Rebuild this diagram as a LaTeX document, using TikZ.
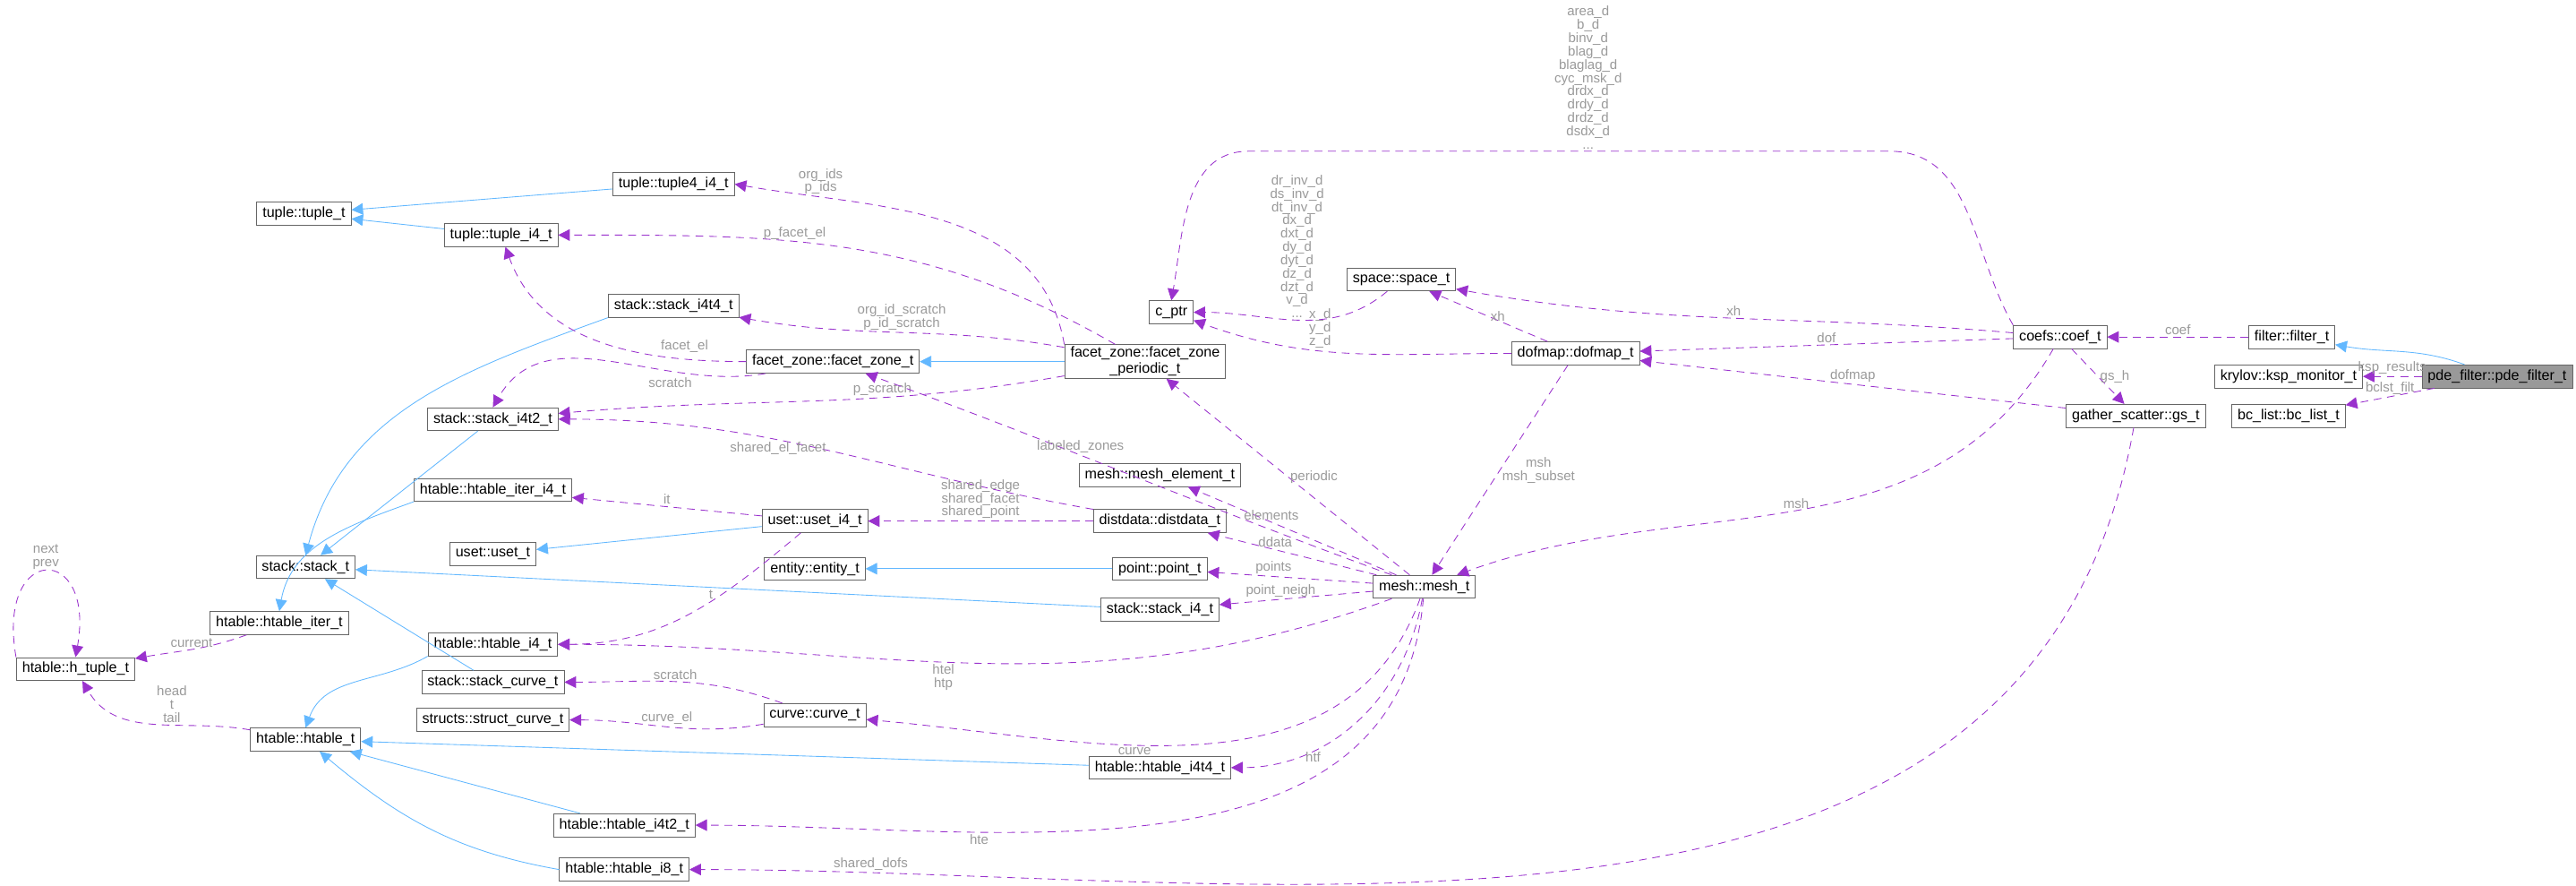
\documentclass[tikz,border=0pt]{standalone}
\usepackage{fontspec}
\setmainfont{Liberation Sans}
\usetikzlibrary{arrows.meta,positioning}
\definecolor{inhblue}{HTML}{63B8FF}
\definecolor{usepurple}{HTML}{9A32CD}
\definecolor{lblgray}{HTML}{9A9A9A}
\begin{document}
\begin{tikzpicture}[x=0.03cm, y=-0.03cm,
    cls/.style={draw=black!60, fill=white, rectangle, minimum height=0.42cm, inner xsep=3pt, inner ysep=1pt, font=\fontsize{7.5}{8.5}\selectfont, align=center},
    inh/.style={draw=inhblue, -{Triangle[length=6pt,width=6pt]}},
    use/.style={draw=usepurple, dashed, dash pattern=on 4pt off 3pt, -{Triangle[length=6pt,width=6pt]}},
    lbl/.style={text=lblgray, font=\fontsize{7}{6.9}\selectfont, align=center, inner sep=1pt}]
  \useasboundingbox (0,0) rectangle (1568,539);
  % classes
  \node[cls, fill=black!40] (pde) at (1520,229) {pde\_filter::pde\_filter\_t};
  \node[cls] (filter) at (1395,205) {filter::filter\_t};
  \node[cls] (ksp) at (1393,229) {krylov::ksp\_monitor\_t};
  \node[cls] (bclist) at (1393,253) {bc\_list::bc\_list\_t};
  \node[cls] (coef) at (1254,205) {coefs::coef\_t};
  \node[cls] (gs) at (1300,253) {gather\_scatter::gs\_t};
  \node[cls] (dofmap) at (959,215) {dofmap::dofmap\_t};
  \node[cls] (space) at (853,170) {space::space\_t};
  \node[cls] (cptr) at (713,190) {c\_ptr};
  \node[cls] (fzp) at (697,220) {facet\_zone::facet\_zone\\\_periodic\_t};
  \node[cls] (fz) at (507,220) {facet\_zone::facet\_zone\_t};
  \node[cls] (tuple4) at (410,112) {tuple::tuple4\_i4\_t};
  \node[cls] (tuple) at (185,130) {tuple::tuple\_t};
  \node[cls] (tuplei4) at (305,143) {tuple::tuple\_i4\_t};
  \node[cls] (si4t4) at (410,186) {stack::stack\_i4t4\_t};
  \node[cls] (si4t2) at (300,255) {stack::stack\_i4t2\_t};
  \node[cls] (melem) at (706,289) {mesh::mesh\_element\_t};
  \node[cls] (mesh) at (867,357) {mesh::mesh\_t};
  \node[cls] (dist) at (706,317) {distdata::distdata\_t};
  \node[cls] (useti4) at (496,317) {uset::uset\_i4\_t};
  \node[cls] (uset) at (300,337) {uset::uset\_t};
  \node[cls] (hiteri4) at (300,298) {htable::htable\_iter\_i4\_t};
  \node[cls] (stack) at (186,345) {stack::stack\_t};
  \node[cls] (entity) at (496,346) {entity::entity\_t};
  \node[cls] (point) at (706,346) {point::point\_t};
  \node[cls] (si4) at (706,371) {stack::stack\_i4\_t};
  \node[cls] (hi4) at (300,392) {htable::htable\_i4\_t};
  \node[cls] (hiter) at (170,379) {htable::htable\_iter\_t};
  \node[cls] (htuple) at (46,407) {htable::h\_tuple\_t};
  \node[cls] (scurve) at (300,415) {stack::stack\_curve\_t};
  \node[cls] (curve) at (496,435) {curve::curve\_t};
  \node[cls] (scurvet) at (300,438) {structs::struct\_curve\_t};
  \node[cls] (htable) at (186,450) {htable::htable\_t};
  \node[cls] (hi4t4) at (706,467) {htable::htable\_i4t4\_t};
  \node[cls] (hi4t2) at (380,502) {htable::htable\_i4t2\_t};
  \node[cls] (hi8) at (380,529) {htable::htable\_i8\_t};
  % inheritance
  \draw[inh] (pde) to[out=160, in=-10] (filter);
  \draw[inh] (tuple4) -- (tuple);
  \draw[inh] (tuplei4) -- (tuple);
  \draw[inh] (si4t4.south west) to[out=200, in=75] (stack.north);
  \draw[inh] (si4t2) -- (stack);
  \draw[inh] (fzp) -- (fz);
  \draw[inh] (useti4) -- (uset);
  \draw[inh] (hiteri4.south west) to[out=200, in=80] (hiter.north);
  \draw[inh] (point) -- (entity);
  \draw[inh] (si4) -- (stack);
  \draw[inh] (scurve) -- (stack);
  \draw[inh] (hi4.south west) to[out=210, in=70] (htable.north);
  \draw[inh] (hi4t4) -- (htable);
  \draw[inh] (hi4t2) -- (htable);
  \draw[inh] (hi8.west) to[out=170, in=-40] (htable);
  % members
  \draw[use] (filter) -- node[lbl, above] {coef} (coef);
  \draw[use] (pde) -- node[lbl, above] {ksp\_results} (ksp);
  \draw[use] (pde) -- node[lbl, above] {bclst\_filt} (bclist);
  \draw[use] (coef.north west) to[out=120, in=0] (1150,92) -- (760,92)
      node[lbl, anchor=south, pos=0.47] {area\_d\\b\_d\\binv\_d\\blag\_d\\blaglag\_d\\cyc\_msk\_d\\drdx\_d\\drdy\_d\\drdz\_d\\dsdx\_d\\...}
      to[out=180, in=80] (cptr.north);
  \draw[use] (coef) to[out=175, in=-10] node[lbl, above] {xh} (space);
  \draw[use] (coef) -- node[lbl, above] {dof} (dofmap);
  \draw[use] (coef) -- node[lbl, right] {gs\_h} (gs);
  \draw[use] (coef) to[out=240, in=20] node[lbl, above, pos=0.5] {msh} (mesh);
  \draw[use] (gs) -- node[lbl, above] {dofmap} (dofmap);
  \draw[use] (gs) to[out=260, in=0] node[lbl, above, pos=0.9] {shared\_dofs} (hi8);
  \draw[use] (dofmap) to[out=180, in=-20] node[lbl, above, pos=0.6] {x\_d\\y\_d\\z\_d} (cptr);
  \draw[use] (dofmap) -- node[lbl, right] {xh} (space);
  \draw[use] (dofmap) -- node[lbl, right] {msh\\msh\_subset} (mesh);
  \draw[use] (space) to[out=220, in=0] node[lbl, anchor=south, pos=0.5] {dr\_inv\_d\\ds\_inv\_d\\dt\_inv\_d\\dx\_d\\dxt\_d\\dy\_d\\dyt\_d\\dz\_d\\dzt\_d\\v\_d\\...} (cptr);
  \draw[use] (fzp.north west) to[out=100, in=-10] node[lbl, above, pos=0.8] {org\_ids\\p\_ids} (tuple4.east);
  \draw[use] (fzp) to[out=150, in=0] node[lbl, above, pos=0.6] {p\_facet\_el} (tuplei4);
  \draw[use] (fzp) to[out=170, in=-10] node[lbl, above] {org\_id\_scratch\\p\_id\_scratch} (si4t4);
  \draw[use] (fzp) to[out=190, in=5] node[lbl, above, pos=0.35] {p\_scratch} (si4t2);
  \draw[use] (fz) to[out=180, in=-70] node[lbl, above=2pt, pos=0.2] {facet\_el} (tuplei4);
  \draw[use] (fz) to[out=190, in=60] node[lbl, below=2pt, pos=0.3] {scratch} (si4t2.north);
  \draw[use] (mesh) to[out=160, in=-20] node[lbl, above, pos=0.6] {labeled\_zones} (fz);
  \draw[use] (mesh) -- node[lbl, right] {periodic} (fzp);
  \draw[use] (mesh) -- node[lbl, above, pos=0.6] {elements} (melem);
  \draw[use] (mesh) -- node[lbl, above, pos=0.6] {ddata} (dist);
  \draw[use] (mesh) -- node[lbl, above, pos=0.6] {points} (point);
  \draw[use] (mesh) -- node[lbl, above, pos=0.6] {point\_neigh} (si4);
  \draw[use] (mesh) to[out=200, in=0] node[lbl, below, pos=0.55] {htel\\htp} (hi4);
  \draw[use] (mesh) to[out=250, in=-5] node[lbl, below, pos=0.6] {curve} (curve);
  \draw[use] (mesh) to[out=260, in=0] node[lbl, below, pos=0.7] {htf} (hi4t4);
  \draw[use] (mesh) to[out=265, in=0] node[lbl, below, pos=0.7] {hte} (hi4t2);
  \draw[use] (dist) to[out=170, in=0] node[lbl, below, pos=0.6] {shared\_el\_facet} (si4t2);
  \draw[use] (dist) -- node[lbl, above] {shared\_edge\\shared\_facet\\shared\_point} (useti4);
  \draw[use] (useti4) -- node[lbl, above] {it} (hiteri4);
  \draw[use] (useti4) to[out=220, in=0] node[lbl, above, pos=0.4] {t} (hi4);
  \draw[use] (curve) to[out=160, in=0] node[lbl, above] {scratch} (scurve);
  \draw[use] (curve) to[out=190, in=0] node[lbl, above] {curve\_el} (scurvet);
  \draw[use] (hiter) to[out=200, in=10] node[lbl, above] {current} (htuple);
  \draw[use] (htable) to[out=170, in=-60] node[lbl, above, pos=0.4] {head\\t\\tail} (htuple);
  \draw[use] (htuple.north west) to[out=100, in=80, looseness=5] node[lbl, above] {next\\prev} (htuple.north);
\end{tikzpicture}
\end{document}
